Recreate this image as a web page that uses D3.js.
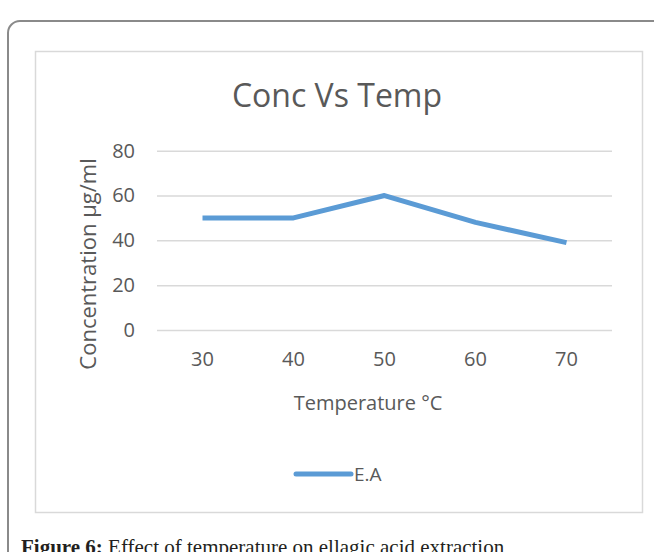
<!DOCTYPE html>
<html>
<head>
<meta charset="utf-8">
<script src="https://cdn.jsdelivr.net/npm/d3@7"></script>
<style>
  body { margin: 0; background: #fff; }
  svg { display: block; }
</style>
</head>
<body>
<svg id="chart" width="654" height="552"></svg>
<script>
/* chart values */
const temps = ["30", "40", "50", "60", "70"];
const concValues = [50, 50, 60, 48, 39];
const yTicks = [0, 20, 40, 60, 80];
const seriesName = "E.A";

const svg = d3.select("#chart");
const textColor = "#595959";
const gridColor = "#d9d9d9";
const lineColor = "#5b9bd5";
const uiFont = "'Open Sans', 'Noto Sans', sans-serif";

/* outer page box, runs off the right and bottom */
svg.append("rect")
    .attr("x", 8)
    .attr("y", 21)
    .attr("width", 700)
    .attr("height", 600)
    .attr("rx", 12)
    .style("fill", "none")
    .style("stroke", "#8a8a8a")
    .style("stroke-width", 2);

/* chart area border */
svg.append("rect")
    .attr("x", 35.5)
    .attr("y", 51.5)
    .attr("width", 607)
    .attr("height", 461)
    .style("fill", "#fff")
    .style("stroke", gridColor)
    .style("stroke-width", 1.5);

/* scales */
const x = d3.scaleBand()
    .domain(temps)
    .range([157, 612]);

const y = d3.scaleLinear()
    .domain([0, 80])
    .range([330, 150.7]);

/* gridlines + y labels */
const yAxis = d3.axisLeft(y)
    .tickValues(yTicks)
    .tickSize(-(612 - 157))
    .tickPadding(22);

svg.append("g")
    .attr("class", "yAxis")
    .attr("transform", "translate(157,0)")
    .call(yAxis)
    .call(g => g.select(".domain").remove())
    .call(g => g.selectAll(".tick line")
        .style("stroke", gridColor)
        .style("stroke-width", 1.5))
    .call(g => g.selectAll(".tick text")
        .style("fill", textColor)
        .style("font-family", uiFont)
        .style("font-size", "20px"));

/* x labels */
const xAxis = d3.axisBottom(x)
    .tickSize(0)
    .tickPadding(22);

svg.append("g")
    .attr("class", "xAxis")
    .attr("transform", "translate(0,330)")
    .call(xAxis)
    .call(g => g.select(".domain").remove())
    .call(g => g.selectAll(".tick text")
        .style("fill", textColor)
        .style("font-family", uiFont)
        .style("font-size", "20px"));

/* series line */
const line = d3.line()
    .x((d, i) => x(temps[i]) + x.bandwidth() / 2)
    .y(d => y(d));

svg.append("path")
    .datum(concValues)
    .attr("d", line)
    .style("fill", "none")
    .style("stroke", lineColor)
    .style("stroke-width", 5)
    .style("stroke-linejoin", "round");

/* title */
svg.append("text")
    .attr("x", 337)
    .attr("y", 107)
    .attr("text-anchor", "middle")
    .style("font-family", uiFont)
    .style("font-size", "32px")
    .style("fill", textColor)
    .text("Conc Vs Temp");

/* axis titles */
svg.append("text")
    .attr("transform", "translate(96,264) rotate(-90)")
    .attr("text-anchor", "middle")
    .style("font-family", uiFont)
    .style("font-size", "22px")
    .style("fill", textColor)
    .text("Concentration µg/ml");

svg.append("text")
    .attr("x", 368)
    .attr("y", 410)
    .attr("text-anchor", "middle")
    .style("font-family", uiFont)
    .style("font-size", "20px")
    .style("fill", textColor)
    .text("Temperature °C");

/* legend */
svg.append("line")
    .attr("x1", 296)
    .attr("x2", 351)
    .attr("y1", 474)
    .attr("y2", 474)
    .style("stroke", lineColor)
    .style("stroke-width", 5)
    .style("stroke-linecap", "round");

svg.append("text")
    .attr("x", 354)
    .attr("y", 481)
    .style("font-family", uiFont)
    .style("font-size", "19px")
    .style("fill", textColor)
    .text(seriesName);

/* figure caption */
const caption = svg.append("text")
    .attr("x", 21)
    .attr("y", 554)
    .style("font-family", "'Liberation Serif', serif")
    .style("font-size", "21px")
    .style("fill", "#231f20");
caption.append("tspan").style("font-weight", "bold").text("Figure 6:");
caption.append("tspan").text(" Effect of temperature on ellagic acid extraction");
</script>
</body>
</html>
